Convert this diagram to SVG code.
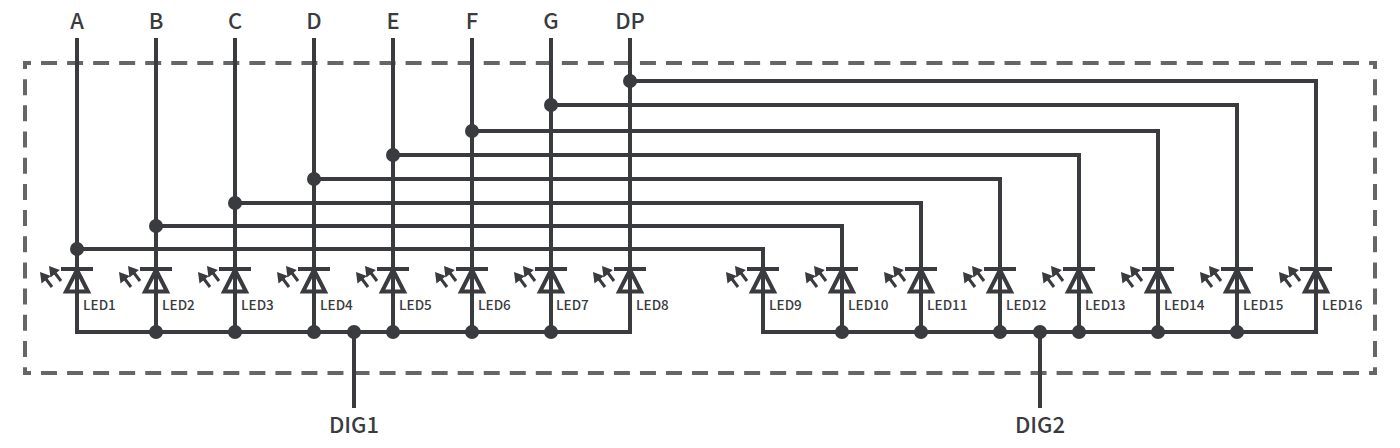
<svg xmlns="http://www.w3.org/2000/svg" width="1400" height="448" viewBox="0 0 1400 448">
<style>
text{font-family:"Noto Sans CJK SC","Noto Sans",sans-serif;fill:#3a3b3f}
.p{font-size:22px;text-anchor:middle;font-weight:500}
.l{font-size:13.5px;font-weight:500}
.w{fill:none;stroke:#3a3b3f;stroke-width:4;stroke-linecap:butt;stroke-linejoin:miter}
.a{fill:none;stroke:#3a3b3f;stroke-width:3}
.d{fill:#3a3b3f}
.h{fill:none;stroke:#666;stroke-width:4;stroke-dasharray:16 10.04;stroke-dashoffset:8}
.v{fill:none;stroke:#666;stroke-width:4;stroke-dasharray:16 10.18;stroke-dashoffset:8}
</style>
<defs>
<g id="led">
<path class="w" d="M-16 0H16M0 1L-11 22.5H11Z"/>
<path class="a" d="M-31 10L-25 18M-22 4L-16 12"/>
<path class="d" d="M-37 3L-35.5 14.5L-26.1 7.1ZM-28 -3L-26.5 8.5L-17.1 1.1Z"/>
</g>
</defs>
<g id="package">
<path class="h" d="M23 63H1377M23 373H1377"/>
<path class="v" d="M25 61V375M1375 61V375"/>
</g>
<g id="connectors">
<path class="w" d="M77 38V332H630V268M156 38V332M235 38V332M314 38V332M393 38V332M472 38V332M551 38V332M630 38V268M354 332V408"/>
<path class="w" d="M77 249H763V332H1316V81H630M156 226H842V332M235 203H921V332M314 179H1000V332M393 155H1079V332M472 131H1158V332M551 105H1237V332M1040 332V408"/>
<g class="d">
<circle cx="77" cy="249" r="7"/><circle cx="156" cy="226" r="7"/><circle cx="235" cy="203" r="7"/><circle cx="314" cy="179" r="7"/><circle cx="393" cy="155" r="7"/><circle cx="472" cy="131" r="7"/><circle cx="551" cy="105" r="7"/><circle cx="630" cy="81" r="7"/>
<circle cx="156" cy="332" r="7"/><circle cx="235" cy="332" r="7"/><circle cx="314" cy="332" r="7"/><circle cx="354" cy="332" r="7"/><circle cx="393" cy="332" r="7"/><circle cx="472" cy="332" r="7"/><circle cx="551" cy="332" r="7"/>
<circle cx="842" cy="332" r="7"/><circle cx="921" cy="332" r="7"/><circle cx="1000" cy="332" r="7"/><circle cx="1040" cy="332" r="7"/><circle cx="1079" cy="332" r="7"/><circle cx="1158" cy="332" r="7"/><circle cx="1237" cy="332" r="7"/>
</g>
</g>
<g id="pins">
<text class="p" x="77" y="29">A</text><text class="p" x="156" y="29">B</text><text class="p" x="235" y="29">C</text><text class="p" x="314" y="29">D</text><text class="p" x="393" y="29">E</text><text class="p" x="472" y="29">F</text><text class="p" x="551" y="29">G</text><text class="p" x="630" y="29">DP</text>
<text class="p" x="354" y="433">DIG1</text><text class="p" x="1040" y="433">DIG2</text>
</g>
<g id="LED1"><use href="#led" x="77" y="269"/><text class="l" x="83" y="310">LED1</text></g>
<g id="LED2"><use href="#led" x="156" y="269"/><text class="l" x="162" y="310">LED2</text></g>
<g id="LED3"><use href="#led" x="235" y="269"/><text class="l" x="241" y="310">LED3</text></g>
<g id="LED4"><use href="#led" x="314" y="269"/><text class="l" x="320" y="310">LED4</text></g>
<g id="LED5"><use href="#led" x="393" y="269"/><text class="l" x="399" y="310">LED5</text></g>
<g id="LED6"><use href="#led" x="472" y="269"/><text class="l" x="478" y="310">LED6</text></g>
<g id="LED7"><use href="#led" x="551" y="269"/><text class="l" x="556" y="310">LED7</text></g>
<g id="LED8"><use href="#led" x="630" y="269"/><text class="l" x="636" y="310">LED8</text></g>
<g id="LED9"><use href="#led" x="763" y="269"/><text class="l" x="769" y="310">LED9</text></g>
<g id="LED10"><use href="#led" x="842" y="269"/><text class="l" x="848" y="310">LED10</text></g>
<g id="LED11"><use href="#led" x="921" y="269"/><text class="l" x="927" y="310">LED11</text></g>
<g id="LED12"><use href="#led" x="1000" y="269"/><text class="l" x="1006" y="310">LED12</text></g>
<g id="LED13"><use href="#led" x="1079" y="269"/><text class="l" x="1085" y="310">LED13</text></g>
<g id="LED14"><use href="#led" x="1158" y="269"/><text class="l" x="1164" y="310">LED14</text></g>
<g id="LED15"><use href="#led" x="1237" y="269"/><text class="l" x="1243" y="310">LED15</text></g>
<g id="LED16"><use href="#led" x="1316" y="269"/><text class="l" x="1322" y="310">LED16</text></g>
</svg>
